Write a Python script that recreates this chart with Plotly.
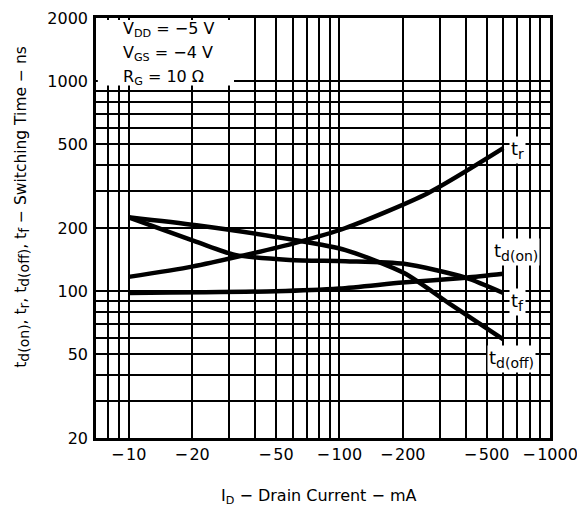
import plotly.graph_objects as go

# ---- data (I_D magnitude in mA, switching time in ns) ----
I_tr = [10, 20, 36, 62, 107, 263, 600]
t_r = [117, 131, 149, 170, 200, 293, 480]

I_tdon = [10, 50, 100, 200, 400, 600]
t_don = [98, 100, 103, 110, 116, 121]

I_tf = [10, 21, 32, 58, 107, 203, 397, 600]
t_f = [225, 172, 149, 141, 139, 135, 116, 98]

I_tdoff = [10, 21, 62, 107, 203, 340, 600]
t_doff = [225, 206, 175, 157, 122, 86, 59]

x_grid = [7, 8, 9] + [d * 10 for d in range(1, 10)] + [d * 100 for d in range(1, 10)] + [1000]
x_labeled = {10: "\u2212\u200a10", 20: "\u2212\u200a20", 50: "\u2212\u200a50", 100: "\u2212\u200a100",
             200: "\u2212\u200a200", 500: "\u2212\u200a500", 1000: "\u2212\u200a1000"}
y_grid = [d * 10 for d in range(2, 10)] + [d * 100 for d in range(1, 10)] + [1000, 2000]
y_labeled = {20: "20", 50: "50", 100: "100", 200: "200", 500: "500", 1000: "1000", 2000: "2000"}

FONT = "DejaVu Sans"
fig = go.Figure()
for xs, ys in [(I_tr, t_r), (I_tdon, t_don), (I_tf, t_f), (I_tdoff, t_doff)]:
    fig.add_trace(go.Scatter(x=xs, y=ys, mode="lines",
                             line=dict(color="black", width=4.5, shape="spline", smoothing=0.7),
                             showlegend=False, hoverinfo="skip"))

fig.update_xaxes(type="log", range=[0.845, 3.0], automargin=False, ticklabeloverflow="allow",
                 tickvals=x_grid, ticktext=[x_labeled.get(v, "") for v in x_grid],
                 showgrid=True, gridcolor="black", gridwidth=1.8,
                 showline=True, linecolor="black", linewidth=2.5, mirror=True,
                 ticks="", ticklabelstandoff=0, zeroline=False,
                 tickfont=dict(family=FONT, size=16, color="black"))
fig.update_yaxes(type="log", range=[1.30103, 3.30103], automargin=False, ticklabeloverflow="allow",
                 tickvals=y_grid, ticktext=[y_labeled.get(v, "") for v in y_grid],
                 showgrid=True, gridcolor="black", gridwidth=1.8,
                 showline=True, linecolor="black", linewidth=2.5, mirror=True,
                 ticks="", ticklabelstandoff=2, zeroline=False,
                 tickfont=dict(family=FONT, size=16, color="black"))

# white box for conditions text
fig.add_shape(type="rect", xref="paper", yref="paper", x0=0.004, x1=0.304, y0=0.839, y1=0.995,
              fillcolor="white", line=dict(width=0), layer="above")

cond = ["V<sub>DD</sub> = \u22125 V", "V<sub>GS</sub> = \u22124 V", "R<sub>G</sub> = 10 \u03a9"]
cond_y = [0.972, 0.915, 0.858]
for t, yy in zip(cond, cond_y):
    fig.add_annotation(text=t, xref="paper", yref="paper", x=0.055, y=yy, xanchor="left",
                       yanchor="middle", showarrow=False, font=dict(family=FONT, size=16, color="black"))

sub = lambda s: "<sub><span style='font-size:14px'>%s</span></sub>" % s
labels = [("t" + sub("r"), 0.910, 0.685), ("t" + sub("d(on)"), 0.872, 0.443),
          ("t" + sub("f"), 0.910, 0.325), ("t" + sub("d(off)"), 0.861, 0.187)]
for t, xx, yy in labels:
    fig.add_annotation(text=t, xref="paper", yref="paper", x=xx, y=yy, xanchor="left",
                       yanchor="middle", showarrow=False, bgcolor="white", borderpad=1,
                       font=dict(family=FONT, size=18, color="black"))

fig.add_annotation(text="t" + sub("d(on)") + ", t" + sub("r") + ", t" + sub("d(off)") + ", t" + sub("f")
                        + " \u2212 Switching Time \u2212 ns",
                   xref="paper", yref="paper", x=-0.19, y=0.55, textangle=-90,
                   showarrow=False, font=dict(family=FONT, size=15.5, color="black"))
fig.add_annotation(text="I<sub>D</sub> \u2212 Drain Current \u2212 mA", xref="paper", yref="paper",
                   x=0.491, y=-0.17, showarrow=False, font=dict(family=FONT, size=16, color="black"))

fig.update_layout(width=585, height=508, margin=dict(l=88, r=43, t=10, b=78),
                  plot_bgcolor="white", paper_bgcolor="white")
fig.write_html("out.html")
